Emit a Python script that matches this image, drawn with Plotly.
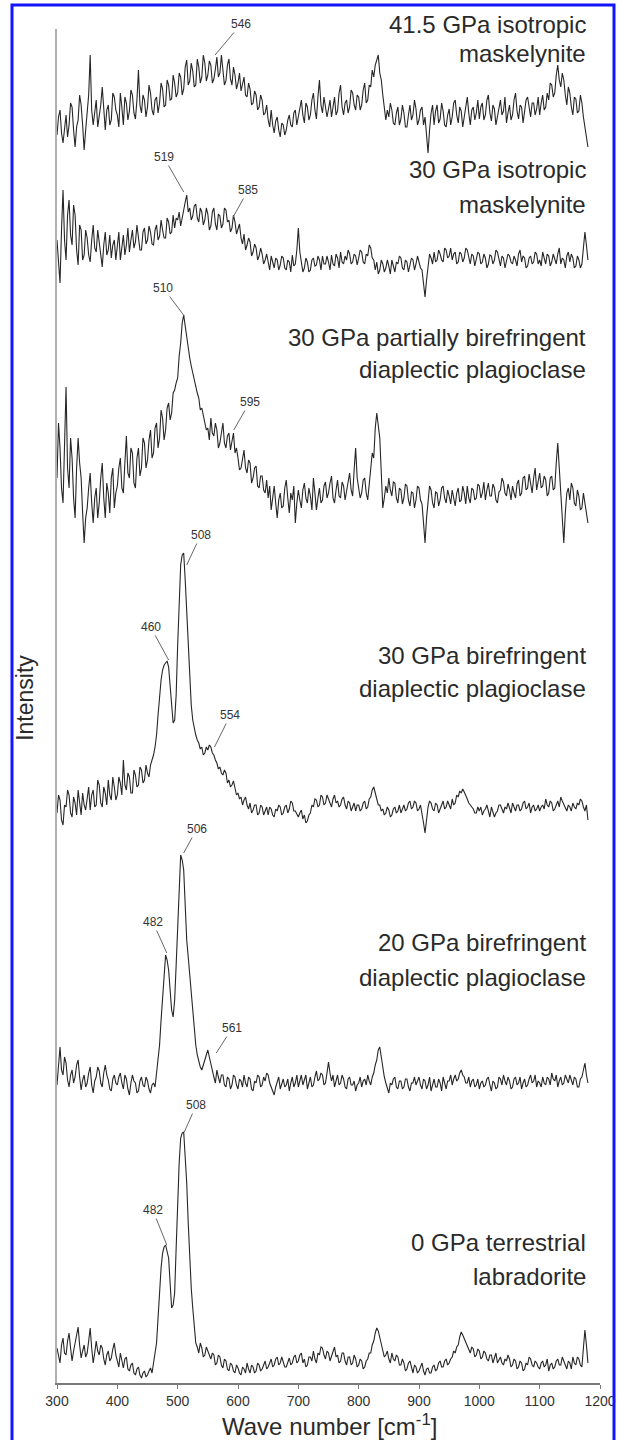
import plotly.graph_objects as go

# Wavenumber grid (cm^-1), 2.5 cm^-1 sampling
wavenumber = [300 + 2.5 * i for i in range(353)]

# Spectrum intensities (arbitrary units, height above each spectrum's own baseline)
spec_415_iso = [
    20, 38, 45, 22, 12, 30, 40, 18, 30, 52, 48, 25, 8, 28, 35, 60, 50, 30, 5, 25,
    42, 60, 100, 45, 30, 40, 55, 28, 38, 50, 68, 40, 25, 45, 50, 30, 35, 62, 58, 45,
    40, 28, 62, 48, 30, 58, 52, 35, 44, 65, 60, 42, 36, 55, 85, 50, 42, 60, 55, 38,
    48, 70, 62, 45, 40, 55, 58, 42, 52, 72, 66, 48, 50, 75, 70, 55, 56, 80, 72, 58,
    62, 82, 78, 60, 66, 88, 95, 70, 74, 92, 84, 68, 70, 96, 88, 72, 78, 100, 92, 74,
    80, 94, 90, 72, 76, 86, 98, 78, 82, 100, 88, 70, 74, 90, 96, 76, 70, 88, 80, 66,
    72, 82, 64, 70, 78, 60, 58, 72, 66, 50, 52, 64, 60, 45, 48, 60, 55, 40, 42, 50,
    35, 28, 45, 30, 22, 34, 38, 25, 18, 32, 30, 20, 25, 35, 40, 30, 28, 42, 45, 30,
    38, 48, 55, 40, 32, 52, 48, 35, 40, 55, 62, 45, 36, 58, 75, 50, 42, 58, 50, 38,
    46, 55, 38, 50, 58, 40, 44, 62, 70, 48, 40, 52, 55, 42, 48, 65, 62, 50, 45, 60,
    58, 45, 50, 65, 72, 52, 55, 70, 68, 85, 78, 90, 95, 100, 82, 75, 60, 48, 35, 45,
    38, 52, 45, 32, 30, 42, 48, 30, 36, 50, 42, 28, 28, 40, 50, 35, 40, 55, 46, 30,
    35, 45, 48, 30, 38, 20, 2, 25, 42, 50, 30, 44, 50, 32, 36, 52, 44, 30, 28, 40,
    46, 30, 38, 52, 55, 40, 32, 48, 44, 28, 40, 52, 58, 42, 30, 45, 48, 35, 42, 55,
    36, 48, 52, 35, 40, 55, 60, 42, 34, 50, 46, 30, 38, 48, 55, 40, 44, 58, 32, 42,
    50, 35, 40, 55, 62, 44, 36, 50, 48, 32, 42, 55, 58, 45, 38, 52, 52, 40, 46, 58,
    40, 52, 60, 45, 48, 62, 55, 72, 70, 58, 62, 80, 90, 75, 68, 82, 75, 60, 50, 68,
    62, 48, 40, 58, 56, 42, 44, 60, 52, 38, 30, 18, 8,
]
spec_30_iso = [
    60, 35, 17, 70, 110, 60, 40, 85, 100, 65, 55, 95, 85, 50, 35, 75, 70, 40, 45, 70,
    62, 45, 38, 60, 75, 52, 48, 70, 58, 40, 33, 55, 68, 45, 50, 65, 42, 55, 60, 40,
    52, 68, 40, 55, 65, 45, 55, 72, 48, 60, 70, 52, 58, 75, 62, 50, 50, 68, 72, 56,
    60, 74, 68, 56, 55, 70, 75, 60, 64, 80, 70, 62, 62, 82, 78, 66, 68, 85, 72, 82,
    80, 88, 74, 84, 90, 98, 105, 88, 92, 80, 84, 94, 96, 82, 78, 92, 88, 75, 80, 92,
    86, 70, 74, 88, 92, 76, 70, 86, 84, 72, 76, 92, 90, 78, 80, 68, 72, 85, 78, 66,
    70, 76, 62, 56, 66, 50, 55, 62, 58, 44, 48, 56, 52, 40, 44, 52, 46, 36, 40, 46,
    38, 30, 44, 36, 32, 42, 40, 30, 35, 44, 42, 32, 30, 40, 38, 28, 45, 34, 36, 50,
    72, 48, 40, 28, 32, 42, 38, 28, 30, 40, 42, 34, 35, 44, 40, 30, 44, 36, 36, 44,
    38, 30, 45, 36, 34, 46, 42, 32, 48, 38, 36, 44, 40, 50, 46, 36, 38, 46, 44, 35,
    42, 50, 48, 38, 36, 46, 44, 55, 52, 42, 40, 30, 38, 26, 30, 40, 36, 28, 32, 40,
    34, 26, 40, 32, 28, 38, 36, 44, 42, 32, 30, 40, 38, 28, 34, 42, 40, 30, 36, 44,
    38, 32, 30, 15, 3, 20, 34, 46, 42, 36, 48, 38, 40, 50, 46, 40, 38, 52, 50, 42,
    44, 52, 40, 46, 48, 36, 38, 48, 46, 38, 42, 52, 50, 42, 36, 46, 44, 34, 40, 48,
    46, 36, 38, 46, 42, 32, 36, 45, 44, 36, 40, 50, 48, 40, 34, 44, 42, 32, 38, 46,
    44, 38, 36, 44, 40, 34, 46, 50, 38, 44, 42, 32, 34, 42, 44, 36, 38, 48, 46, 36,
    40, 34, 48, 40, 36, 46, 44, 34, 38, 46, 42, 36, 46, 52, 36, 42, 40, 32, 44, 48,
    38, 46, 42, 32, 34, 44, 40, 32, 36, 50, 68, 55, 40,
]
spec_30_partial = [
    70, 125, 100, 60, 45, 100, 161, 80, 60, 110, 90, 50, 30, 80, 110, 85, 70, 35, 5, 30,
    40, 60, 75, 45, 25, 50, 60, 30, 45, 70, 85, 50, 30, 65, 55, 35, 70, 80, 40, 55,
    62, 80, 90, 60, 55, 85, 112, 75, 70, 100, 95, 65, 60, 90, 100, 72, 80, 110, 105, 80,
    88, 108, 118, 90, 95, 120, 125, 100, 110, 138, 130, 108, 118, 140, 145, 128, 135, 155, 158, 165,
    170, 192, 205, 225, 233, 222, 210, 200, 190, 182, 175, 168, 160, 155, 150, 138, 140, 132, 128, 118,
    120, 108, 130, 115, 112, 125, 118, 100, 105, 118, 125, 105, 100, 112, 115, 98, 108, 115, 95, 100,
    90, 78, 80, 92, 98, 80, 75, 88, 85, 65, 70, 80, 82, 62, 60, 72, 72, 58, 55, 68,
    50, 62, 38, 50, 62, 45, 30, 48, 55, 40, 42, 60, 68, 50, 35, 55, 48, 62, 25, 45,
    58, 48, 40, 58, 65, 50, 45, 60, 52, 38, 70, 55, 38, 50, 60, 45, 48, 62, 66, 50,
    55, 65, 72, 50, 45, 58, 68, 52, 50, 66, 62, 48, 58, 70, 75, 58, 52, 78, 100, 70,
    60, 50, 55, 68, 70, 55, 48, 65, 78, 95, 90, 120, 135, 125, 110, 75, 40, 50, 62, 55,
    70, 58, 52, 66, 65, 50, 45, 60, 58, 44, 50, 64, 62, 48, 42, 56, 55, 40, 48, 62,
    60, 48, 44, 25, 5, 30, 50, 62, 58, 45, 40, 56, 55, 42, 48, 60, 62, 50, 45, 58,
    52, 44, 58, 50, 42, 55, 60, 46, 48, 62, 55, 44, 62, 50, 45, 60, 58, 48, 50, 64,
    62, 50, 55, 66, 48, 58, 65, 52, 52, 64, 60, 48, 45, 56, 58, 70, 66, 55, 52, 64,
    58, 48, 62, 55, 50, 64, 68, 52, 55, 70, 72, 58, 60, 74, 65, 55, 70, 80, 58, 66,
    75, 60, 62, 72, 68, 52, 55, 70, 72, 58, 60, 85, 105, 80, 58, 30, 5, 35, 55, 60,
    48, 65, 60, 45, 42, 58, 52, 38, 40, 55, 45, 35, 25,
]
spec_30_bire = [
    22, 40, 35, 15, 10, 30, 28, 45, 40, 22, 18, 38, 32, 20, 45, 30, 20, 42, 30, 25,
    38, 48, 25, 40, 45, 28, 30, 55, 50, 32, 28, 48, 42, 30, 55, 40, 35, 58, 48, 35,
    40, 58, 52, 40, 75, 50, 45, 62, 58, 42, 42, 65, 60, 48, 50, 68, 65, 52, 55, 70,
    62, 58, 70, 75, 80, 88, 100, 120, 140, 155, 165, 170, 172, 174, 168, 150, 125, 112, 115, 140,
    190, 240, 270, 280, 282, 255, 220, 185, 150, 130, 115, 105, 100, 95, 92, 86, 88, 80, 82, 88,
    85, 90, 88, 82, 80, 75, 72, 66, 68, 62, 60, 65, 62, 52, 55, 48, 50, 54, 48, 40,
    42, 36, 38, 30, 35, 38, 30, 26, 32, 22, 25, 30, 30, 20, 22, 30, 28, 20, 24, 28,
    20, 28, 26, 20, 18, 26, 24, 30, 28, 20, 22, 28, 30, 22, 26, 34, 32, 24, 24, 20,
    18, 22, 25, 16, 20, 12, 14, 20, 22, 30, 28, 36, 35, 28, 30, 40, 38, 30, 32, 40,
    36, 30, 28, 36, 40, 32, 34, 28, 30, 36, 38, 30, 26, 34, 32, 24, 28, 32, 24, 30,
    30, 24, 26, 32, 34, 26, 28, 36, 38, 45, 48, 40, 36, 30, 30, 24, 26, 20, 22, 28,
    25, 18, 20, 26, 28, 22, 24, 30, 22, 26, 30, 24, 26, 32, 34, 26, 28, 34, 32, 24,
    26, 30, 22, 12, 2, 18, 28, 34, 32, 26, 24, 32, 30, 22, 26, 32, 34, 26, 28, 34,
    30, 26, 36, 30, 32, 40, 38, 44, 42, 46, 43, 40, 36, 32, 30, 28, 26, 22, 22, 28,
    24, 28, 20, 24, 26, 30, 22, 18, 28, 24, 18, 22, 24, 30, 30, 26, 22, 28, 26, 32,
    28, 22, 32, 28, 24, 30, 30, 24, 26, 32, 34, 26, 28, 32, 22, 28, 30, 24, 26, 30,
    24, 28, 30, 26, 36, 30, 28, 34, 32, 24, 26, 30, 34, 28, 38, 34, 30, 26, 24, 30,
    28, 24, 32, 28, 26, 32, 30, 36, 34, 28, 24, 30, 15,
]
spec_20_bire = [
    20, 40, 58, 35, 30, 48, 42, 25, 18, 30, 35, 22, 28, 40, 45, 28, 15, 25, 30, 18,
    22, 32, 38, 20, 12, 24, 28, 38, 34, 22, 18, 32, 40, 30, 25, 16, 14, 26, 30, 22,
    20, 28, 32, 22, 16, 30, 26, 16, 10, 22, 30, 24, 22, 12, 14, 24, 28, 20, 18, 28,
    24, 16, 12, 20, 22, 18, 30, 42, 60, 85, 110, 132, 150, 145, 135, 115, 95, 88, 105, 140,
    180, 220, 250, 245, 235, 200, 165, 148, 130, 112, 95, 78, 60, 50, 42, 38, 35, 40, 45, 50,
    55, 48, 40, 32, 28, 22, 35, 28, 22, 30, 30, 20, 18, 28, 26, 16, 20, 30, 28, 20,
    16, 26, 24, 18, 30, 22, 18, 28, 26, 16, 14, 24, 22, 30, 28, 18, 20, 28, 24, 32,
    30, 22, 18, 14, 10, 18, 22, 28, 16, 22, 26, 18, 20, 26, 14, 22, 28, 18, 22, 30,
    18, 24, 30, 20, 24, 30, 16, 22, 28, 18, 20, 28, 34, 24, 26, 32, 30, 20, 22, 32,
    43, 32, 24, 30, 18, 24, 30, 20, 22, 30, 26, 18, 16, 26, 28, 20, 20, 24, 14, 20,
    22, 28, 18, 24, 26, 20, 30, 24, 20, 28, 32, 40, 45, 55, 58, 48, 35, 28, 22, 16,
    12, 22, 20, 26, 28, 18, 16, 24, 24, 16, 18, 26, 26, 18, 14, 22, 22, 28, 20, 24,
    28, 20, 16, 26, 24, 16, 20, 28, 14, 20, 26, 18, 18, 26, 22, 14, 28, 22, 16, 24,
    24, 30, 20, 26, 30, 24, 26, 32, 35, 30, 28, 22, 22, 28, 18, 24, 26, 18, 20, 26,
    16, 22, 24, 18, 20, 26, 28, 20, 14, 24, 22, 16, 18, 28, 26, 20, 30, 24, 20, 28,
    24, 16, 18, 26, 28, 20, 22, 28, 16, 22, 26, 18, 20, 26, 30, 22, 24, 30, 18, 24,
    22, 18, 28, 22, 20, 28, 26, 20, 32, 26, 24, 30, 18, 24, 28, 20, 22, 30, 26, 22,
    30, 24, 20, 28, 26, 18, 18, 26, 28, 35, 42, 30, 22,
]
spec_0_labr = [
    35, 28, 20, 38, 45, 30, 28, 42, 50, 35, 22, 32, 40, 48, 56, 38, 25, 32, 38, 26,
    30, 42, 55, 35, 20, 30, 42, 32, 28, 38, 35, 24, 18, 28, 32, 22, 25, 34, 40, 28,
    22, 16, 30, 20, 15, 24, 26, 14, 12, 18, 20, 10, 8, 14, 16, 8, 5, 10, 12, 6,
    8, 12, 15, 10, 20, 28, 40, 65, 95, 115, 130, 136, 138, 132, 125, 100, 75, 78, 90, 135,
    180, 220, 245, 250, 251, 230, 200, 160, 120, 95, 75, 55, 40, 36, 30, 40, 35, 26, 28, 36,
    32, 26, 24, 30, 28, 18, 20, 28, 26, 18, 15, 24, 22, 14, 12, 20, 18, 12, 10, 18,
    15, 10, 8, 16, 14, 10, 20, 14, 10, 18, 16, 10, 12, 20, 18, 12, 14, 18, 22, 14,
    16, 20, 24, 16, 18, 24, 26, 18, 20, 26, 22, 16, 16, 22, 25, 18, 20, 26, 28, 20,
    22, 28, 30, 20, 24, 16, 18, 26, 26, 22, 32, 24, 20, 30, 28, 36, 35, 28, 24, 32,
    30, 22, 26, 32, 36, 26, 28, 20, 22, 30, 30, 22, 18, 26, 26, 18, 20, 28, 24, 16,
    18, 24, 22, 14, 16, 22, 24, 30, 30, 38, 42, 50, 55, 52, 45, 38, 32, 26, 28, 32,
    24, 20, 30, 24, 22, 28, 26, 18, 18, 24, 20, 12, 14, 20, 22, 14, 10, 18, 16, 10,
    12, 16, 20, 12, 8, 14, 15, 10, 10, 16, 18, 12, 14, 20, 22, 16, 16, 22, 24, 18,
    20, 24, 26, 32, 30, 36, 38, 46, 51, 48, 44, 40, 36, 32, 30, 36, 34, 26, 28, 34,
    32, 24, 26, 32, 30, 24, 22, 28, 28, 20, 24, 30, 20, 24, 26, 20, 18, 24, 22, 28,
    24, 16, 18, 24, 22, 14, 16, 22, 20, 12, 14, 20, 18, 26, 24, 18, 16, 22, 20, 16,
    14, 20, 22, 16, 18, 24, 12, 18, 20, 14, 16, 22, 24, 18, 18, 26, 22, 16, 14, 22,
    20, 14, 26, 20, 18, 26, 24, 18, 16, 35, 53, 38, 20,
]

spectra = [spec_415_iso, spec_30_iso, spec_30_partial, spec_30_bire, spec_20_bire, spec_0_labr]
stack_offsets = [1228, 1083, 835, 548, 278, 0]

sample_line1 = ["41.5 GPa isotropic", "30 GPa isotropic", "30 GPa partially birefringent",
                "30 GPa birefringent", "20 GPa birefringent", "0 GPa terrestrial"]
sample_line2 = ["maskelynite", "maskelynite", "diaplectic plagioclase",
                "diaplectic plagioclase", "diaplectic plagioclase", "labradorite"]
label_y1 = [1359, 1213, 1046, 728, 440, 141]
label_y2 = [1330, 1179, 1013, 695, 406, 107]

# Peak labels: text, x (cm^-1) and y of the leader-line tip
peak_text = ["546", "519", "585", "510", "595", "508", "460", "554", "506", "482", "561", "508", "482"]
peak_x = [562, 510, 592, 511, 593, 515, 485, 561, 510, 482, 564, 511, 482]
peak_y = [1328, 1191, 1166, 1067, 953, 818, 723, 636, 530, 430, 330, 251, 138]
peak_ax = [26, -20, 15, -21, 16, 14, -18, 16, 13, -14, 16, 12, -14]
peak_ay = [-31, -35, -27, -28, -28, -30, -33, -32, -24, -31, -25, -27, -35]

x_ticks = [300, 400, 500, 600, 700, 800, 900, 1000, 1100, 1200]
Y_TOP = 1354

FONT = "Liberation Sans, Arial, Helvetica, sans-serif"

fig = go.Figure()
for vals, off in zip(spectra, stack_offsets):
    n = min(len(vals), len(wavenumber))
    fig.add_trace(go.Scatter(
        x=wavenumber[:n], y=[v + off for v in vals[:n]], mode="lines",
        line=dict(color="#262626", width=1.1), hoverinfo="skip"))

annotations = []
for t1, t2, y1, y2 in zip(sample_line1, sample_line2, label_y1, label_y2):
    for t, yy in ((t1, y1), (t2, y2)):
        annotations.append(dict(text=t, xref="paper", yref="paper", x=0.978, y=yy / Y_TOP,
                                xanchor="right", yanchor="middle", showarrow=False,
                                font=dict(size=24, color="#2a2a2a", family=FONT)))

for t, x, y, ax, ay in zip(peak_text, peak_x, peak_y, peak_ax, peak_ay):
    annotations.append(dict(text=t, x=x, y=y, xref="x", yref="y", ax=ax, ay=ay,
                            showarrow=True, arrowhead=0, arrowwidth=1, arrowcolor="#666",
                            font=dict(size=12, color="#333", family=FONT)))

annotations.append(dict(text="Intensity", xref="paper", yref="paper", x=-0.059, y=0.506,
                        textangle=-90, showarrow=False, xanchor="center", yanchor="middle",
                        font=dict(size=23, color="#2a2a2a", family=FONT)))
annotations.append(dict(text="Wave number [cm<sup>-1</sup>]", xref="paper", yref="paper",
                        x=0.501, y=-0.031, showarrow=False, xanchor="center", yanchor="middle",
                        font=dict(size=24, color="#2a2a2a", family=FONT)))

fig.update_layout(
    width=618, height=1440,
    margin=dict(l=57, r=18, t=29, b=57),
    paper_bgcolor="white", plot_bgcolor="white",
    showlegend=False,
    font=dict(family=FONT),
    annotations=annotations,
    shapes=[dict(type="rect", xref="paper", yref="paper",
                 x0=-0.0829, x1=1.0258, y0=-0.06, y1=1.0177,
                 line=dict(color="#1414ff", width=3), fillcolor="rgba(0,0,0,0)")],
    xaxis=dict(range=[300, 1200], tickvals=x_ticks, showline=True, linecolor="#7a7a7a",
               linewidth=1.5, ticks="outside", ticklen=4, tickcolor="#7a7a7a",
               tickfont=dict(size=14, color="#333", family=FONT), ticklabeloverflow="allow",
               showgrid=False, zeroline=False, automargin=False),
    yaxis=dict(range=[0, Y_TOP], showline=True, linecolor="#b0b0b0", linewidth=2,
               showticklabels=False, ticks="", showgrid=False, zeroline=False,
               automargin=False),
)

fig.write_html("out.html")
